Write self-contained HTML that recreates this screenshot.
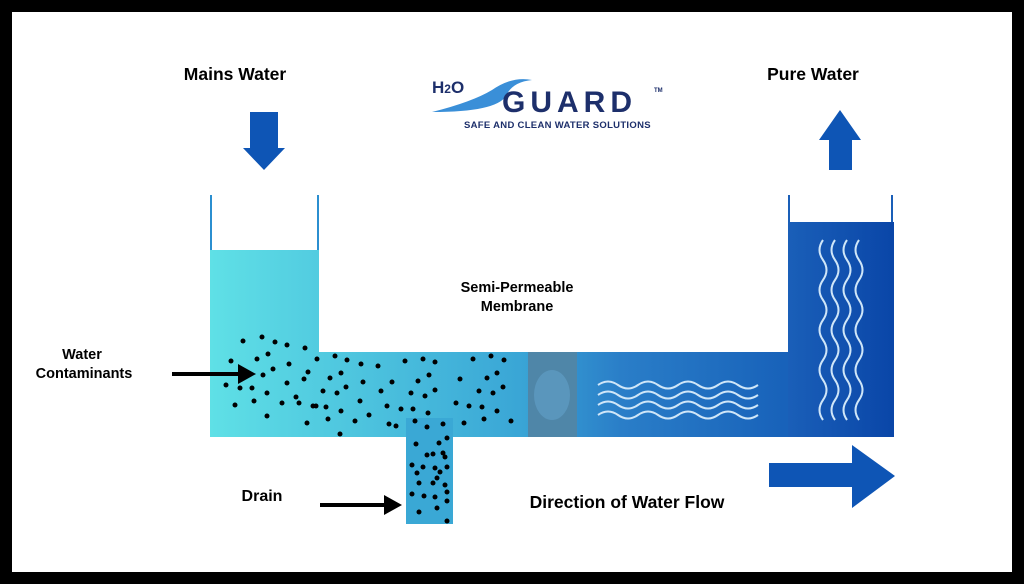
<!DOCTYPE html>
<html><head><meta charset="utf-8"><style>
html,body{margin:0;padding:0;background:#000;}
#f{position:relative;width:1024px;height:584px;background:#000;overflow:hidden;}
#in{position:absolute;left:12px;top:12px;width:1000px;height:560px;background:#fff;}
svg{position:absolute;left:0;top:0;}
text{font-family:"Liberation Sans",sans-serif;font-weight:bold;fill:#000;}
</style></head><body><div id="f"><div id="in"></div>
<svg width="1024" height="584" viewBox="0 0 1024 584">
<defs>
<linearGradient id="pipe" x1="210" x2="895" gradientUnits="userSpaceOnUse">
<stop offset="0" stop-color="#5fe0e6"/><stop offset="0.45" stop-color="#3aa6d6"/><stop offset="0.6" stop-color="#2a7ec8"/><stop offset="1" stop-color="#0c4fb0"/></linearGradient>
<linearGradient id="rt" x1="788" x2="893" gradientUnits="userSpaceOnUse"><stop offset="0" stop-color="#1a5fb8"/><stop offset="1" stop-color="#0a46a8"/></linearGradient>
</defs>
<rect x="210" y="250" width="109" height="187" fill="url(#pipe)"/>
<rect x="210" y="352" width="684" height="85" fill="url(#pipe)"/>
<rect x="788" y="222" width="106" height="215" fill="url(#rt)"/>
<rect x="406" y="418" width="47" height="106" fill="#3aa8d5"/>
<rect x="528" y="352" width="49" height="85" fill="#4f86a8"/>
<ellipse cx="552" cy="395" rx="18" ry="25" fill="#5f9cc4" opacity="0.7"/>
<g stroke="#2b8fd0" stroke-width="2"><line x1="211" y1="195" x2="211" y2="250"/><line x1="318" y1="195" x2="318" y2="250"/></g>
<g stroke="#1a5fb8" stroke-width="2"><line x1="789" y1="195" x2="789" y2="222"/><line x1="892" y1="195" x2="892" y2="222"/></g>
<g fill="none" stroke="#cfe6f8" stroke-width="2">
<path d="M598 385 q10 -7 20 0 t20 0 t20 0 t20 0 t20 0 t20 0 t20 0 t20 0"/>
<path d="M598 395 q10 -7 20 0 t20 0 t20 0 t20 0 t20 0 t20 0 t20 0 t20 0"/>
<path d="M598 405 q10 -7 20 0 t20 0 t20 0 t20 0 t20 0 t20 0 t20 0 t20 0"/>
<path d="M598 415 q10 -7 20 0 t20 0 t20 0 t20 0 t20 0 t20 0 t20 0 t20 0"/>
<path d="M823 240 q-7 10 0 20 t0 20 t0 20 t0 20 t0 20 t0 20 t0 20 t0 20 t0 20"/>
<path d="M835 240 q-7 10 0 20 t0 20 t0 20 t0 20 t0 20 t0 20 t0 20 t0 20 t0 20"/>
<path d="M847 240 q-7 10 0 20 t0 20 t0 20 t0 20 t0 20 t0 20 t0 20 t0 20 t0 20"/>
<path d="M859 240 q-7 10 0 20 t0 20 t0 20 t0 20 t0 20 t0 20 t0 20 t0 20 t0 20"/>
</g>
<g fill="#000">
<circle cx="243" cy="341" r="2.5"/><circle cx="262" cy="337" r="2.5"/><circle cx="275" cy="342" r="2.5"/><circle cx="287" cy="345" r="2.5"/><circle cx="305" cy="348" r="2.5"/><circle cx="231" cy="361" r="2.5"/><circle cx="257" cy="359" r="2.5"/><circle cx="268" cy="354" r="2.5"/><circle cx="289" cy="364" r="2.5"/><circle cx="317" cy="359" r="2.5"/><circle cx="335" cy="356" r="2.5"/><circle cx="347" cy="360" r="2.5"/><circle cx="361" cy="364" r="2.5"/><circle cx="378" cy="366" r="2.5"/><circle cx="405" cy="361" r="2.5"/><circle cx="423" cy="359" r="2.5"/><circle cx="435" cy="362" r="2.5"/><circle cx="473" cy="359" r="2.5"/><circle cx="491" cy="356" r="2.5"/><circle cx="504" cy="360" r="2.5"/><circle cx="273" cy="369" r="2.5"/><circle cx="263" cy="375" r="2.5"/><circle cx="308" cy="372" r="2.5"/><circle cx="304" cy="379" r="2.5"/><circle cx="341" cy="373" r="2.5"/><circle cx="330" cy="378" r="2.5"/><circle cx="363" cy="382" r="2.5"/><circle cx="392" cy="382" r="2.5"/><circle cx="418" cy="381" r="2.5"/><circle cx="429" cy="375" r="2.5"/><circle cx="460" cy="379" r="2.5"/><circle cx="487" cy="378" r="2.5"/><circle cx="497" cy="373" r="2.5"/><circle cx="226" cy="385" r="2.5"/><circle cx="240" cy="388" r="2.5"/><circle cx="252" cy="388" r="2.5"/><circle cx="267" cy="393" r="2.5"/><circle cx="287" cy="383" r="2.5"/><circle cx="323" cy="391" r="2.5"/><circle cx="337" cy="393" r="2.5"/><circle cx="346" cy="387" r="2.5"/><circle cx="381" cy="391" r="2.5"/><circle cx="411" cy="393" r="2.5"/><circle cx="425" cy="396" r="2.5"/><circle cx="435" cy="390" r="2.5"/><circle cx="479" cy="391" r="2.5"/><circle cx="493" cy="393" r="2.5"/><circle cx="503" cy="387" r="2.5"/><circle cx="235" cy="405" r="2.5"/><circle cx="254" cy="401" r="2.5"/><circle cx="282" cy="403" r="2.5"/><circle cx="296" cy="397" r="2.5"/><circle cx="299" cy="403" r="2.5"/><circle cx="313" cy="406" r="2.5"/><circle cx="316" cy="406" r="2.5"/><circle cx="326" cy="407" r="2.5"/><circle cx="360" cy="401" r="2.5"/><circle cx="387" cy="406" r="2.5"/><circle cx="401" cy="409" r="2.5"/><circle cx="413" cy="409" r="2.5"/><circle cx="456" cy="403" r="2.5"/><circle cx="469" cy="406" r="2.5"/><circle cx="482" cy="407" r="2.5"/><circle cx="497" cy="411" r="2.5"/><circle cx="267" cy="416" r="2.5"/><circle cx="341" cy="411" r="2.5"/><circle cx="369" cy="415" r="2.5"/><circle cx="428" cy="413" r="2.5"/><circle cx="307" cy="423" r="2.5"/><circle cx="328" cy="419" r="2.5"/><circle cx="355" cy="421" r="2.5"/><circle cx="389" cy="424" r="2.5"/><circle cx="396" cy="426" r="2.5"/><circle cx="415" cy="421" r="2.5"/><circle cx="427" cy="427" r="2.5"/><circle cx="443" cy="424" r="2.5"/><circle cx="464" cy="423" r="2.5"/><circle cx="484" cy="419" r="2.5"/><circle cx="511" cy="421" r="2.5"/><circle cx="340" cy="434" r="2.5"/>
<circle cx="416" cy="444" r="2.5"/><circle cx="439" cy="443" r="2.5"/><circle cx="447" cy="438" r="2.5"/><circle cx="427" cy="455" r="2.5"/><circle cx="433" cy="454" r="2.5"/><circle cx="443" cy="453" r="2.5"/><circle cx="445" cy="457" r="2.5"/><circle cx="412" cy="465" r="2.5"/><circle cx="423" cy="467" r="2.5"/><circle cx="435" cy="468" r="2.5"/><circle cx="440" cy="472" r="2.5"/><circle cx="447" cy="467" r="2.5"/><circle cx="417" cy="473" r="2.5"/><circle cx="437" cy="478" r="2.5"/><circle cx="419" cy="483" r="2.5"/><circle cx="433" cy="483" r="2.5"/><circle cx="445" cy="485" r="2.5"/><circle cx="412" cy="494" r="2.5"/><circle cx="424" cy="496" r="2.5"/><circle cx="435" cy="497" r="2.5"/><circle cx="447" cy="492" r="2.5"/><circle cx="447" cy="501" r="2.5"/><circle cx="419" cy="512" r="2.5"/><circle cx="437" cy="508" r="2.5"/><circle cx="447" cy="521" r="2.5"/>
</g>
<polygon points="250,112 278,112 278,148 285,148 264,170 243,148 250,148" fill="#0e55b5"/>
<polygon points="829,170 852,170 852,140 861,140 840,110 819,140 829,140" fill="#0e55b5"/>
<polygon points="769,463 852,463 852,445 895,476 852,508 852,487 769,487" fill="#0e55b5"/>
<line x1="172" y1="374" x2="240" y2="374" stroke="#000" stroke-width="4"/>
<polygon points="238,364 256,374 238,384" fill="#000"/>
<line x1="320" y1="505" x2="386" y2="505" stroke="#000" stroke-width="4"/>
<polygon points="384,495 402,505 384,515" fill="#000"/>
<text x="235" y="80" font-size="17.5" text-anchor="middle">Mains Water</text>
<text x="813" y="80" font-size="17.5" text-anchor="middle">Pure Water</text>
<text x="517" y="292" font-size="14.5" text-anchor="middle">Semi-Permeable</text>
<text x="517" y="311" font-size="14.5" text-anchor="middle">Membrane</text>
<text x="82" y="359" font-size="14.5" text-anchor="middle">Water</text>
<text x="84" y="378" font-size="14.5" text-anchor="middle">Contaminants</text>
<text x="262" y="501" font-size="16" text-anchor="middle">Drain</text>
<text x="627" y="508" font-size="17.5" text-anchor="middle">Direction of Water Flow</text>
<path d="M432 112 q40 -10 60 -22 q20 -14 40 -10 q-20 2 -26 16 q-10 16 -74 16z" fill="#3a8fd8"/>
<text x="432" y="93" font-size="17" style="fill:#1d2f6b">H<tspan font-size="12">2</tspan>O</text>
<text x="502" y="112" font-size="30" letter-spacing="5" style="fill:#1d2f6b">GUARD</text>
<text x="654" y="92" font-size="6" style="fill:#1d2f6b">TM</text>
<text x="464" y="128" font-size="9.5" letter-spacing="0.3" style="fill:#1d2f6b">SAFE AND CLEAN WATER SOLUTIONS</text>
</svg></div></body></html>
